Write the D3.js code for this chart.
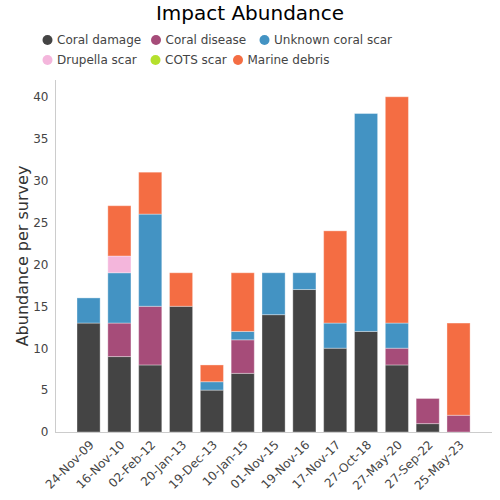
<!DOCTYPE html>
<html><head><meta charset="utf-8">
<script src="https://cdn.jsdelivr.net/npm/d3@7"></script>
<style>body{margin:0;background:#fff;} text{font-family:"DejaVu Sans",sans-serif;}</style>
</head><body>
<svg id="chart" width="500" height="500"></svg>
<script>
const categories = ["24-Nov-09","16-Nov-10","02-Feb-12","20-Jan-13","19-Dec-13","10-Jan-15","01-Nov-15","19-Nov-16","17-Nov-17","27-Oct-18","27-May-20","27-Sep-22","25-May-23"];
const seriesNames = ["Coral damage","Coral disease","Unknown coral scar","Drupella scar","COTS scar","Marine debris"];
const seriesColors = ["#444444","#a64c79","#4393c3","#f4b6dc","#b5e02c","#f46d43"];
const coralDamage   = [13, 9, 8, 15, 5, 7, 14, 17, 10, 12, 8, 1, 0];
const coralDisease  = [0, 4, 7, 0, 0, 4, 0, 0, 0, 0, 2, 3, 2];
const unknownScar   = [3, 6, 11, 0, 1, 1, 5, 2, 3, 26, 3, 0, 0];
const drupellaScar  = [0, 2, 0, 0, 0, 0, 0, 0, 0, 0, 0, 0, 0];
const cotsScar      = [0, 0, 0, 0, 0, 0, 0, 0, 0, 0, 0, 0, 0];
const marineDebris  = [0, 6, 5, 4, 2, 7, 0, 0, 11, 0, 27, 0, 11];
const yTicks = [0, 5, 10, 15, 20, 25, 30, 35, 40];

const seriesValues = [coralDamage, coralDisease, unknownScar, drupellaScar, cotsScar, marineDebris];
const table = categories.map((c, i) => {
  const row = {cat: c};
  seriesNames.forEach((s, j) => row[s] = seriesValues[j][i]);
  return row;
});
const stacked = d3.stack().keys(seriesNames)(table);

const svg = d3.select("#chart");
const x = d3.scaleBand().domain(categories).range([73.15, 473.95]).paddingInner(0.25).paddingOuter(0.125);
const y = d3.scaleLinear().domain([0, 42]).range([432, 80]);
const color = d3.scaleOrdinal().domain(seriesNames).range(seriesColors);

// title
svg.append("text").attr("x", 250).attr("y", 20).attr("text-anchor", "middle")
  .attr("font-size", 20).attr("fill", "#000").text("Impact Abundance");

// legend
const legendPos = [[47.5, 40], [156, 40], [264.5, 40], [47.5, 60], [155.5, 60], [238, 60]];
const lg = svg.append("g");
seriesNames.forEach((s, i) => {
  const [lx, ly] = legendPos[i];
  lg.append("circle").attr("cx", lx).attr("cy", ly).attr("r", 5).attr("fill", seriesColors[i]);
  lg.append("text").attr("x", lx + 9.5).attr("y", ly + 4.3).attr("font-size", 12).attr("fill", "#444").text(s);
});

// bars
svg.append("g").selectAll("g").data(stacked).join("g")
  .attr("fill", d => color(d.key))
  .selectAll("rect").data(d => d.filter(p => p[1] - p[0] > 0)).join("rect")
  .attr("x", d => x(d.data.cat))
  .attr("y", d => y(d[1]))
  .attr("width", x.bandwidth())
  .attr("height", d => y(d[0]) - y(d[1]))
  .attr("stroke", "rgba(255,255,255,0.35)")
  .attr("stroke-width", 1);

// y axis
const yAxis = svg.append("g").attr("transform", "translate(55.5,0)")
  .call(d3.axisLeft(y).tickValues(yTicks).tickSize(0).tickPadding(7));
yAxis.select(".domain").attr("stroke", "#ccc").attr("d", "M0,80V432");
yAxis.selectAll("text").attr("font-size", 12).attr("fill", "#444").attr("font-family", "DejaVu Sans");

// x axis
const xAxis = svg.append("g").attr("transform", "translate(0,432.5)")
  .call(d3.axisBottom(x).tickSize(0));
xAxis.select(".domain").attr("stroke", "#ccc").attr("d", "M55,0H492");
xAxis.selectAll("text").attr("font-size", 12).attr("fill", "#444").attr("font-family", "DejaVu Sans")
  .attr("text-anchor", "end").attr("dy", null).attr("y", 0)
  .attr("transform", "translate(6,13) rotate(-45)");

// y title
svg.append("text").attr("transform", "translate(27.5,256) rotate(-90)")
  .attr("text-anchor", "middle").attr("font-size", 16).attr("fill", "#333")
  .text("Abundance per survey");
</script>
</body></html>
